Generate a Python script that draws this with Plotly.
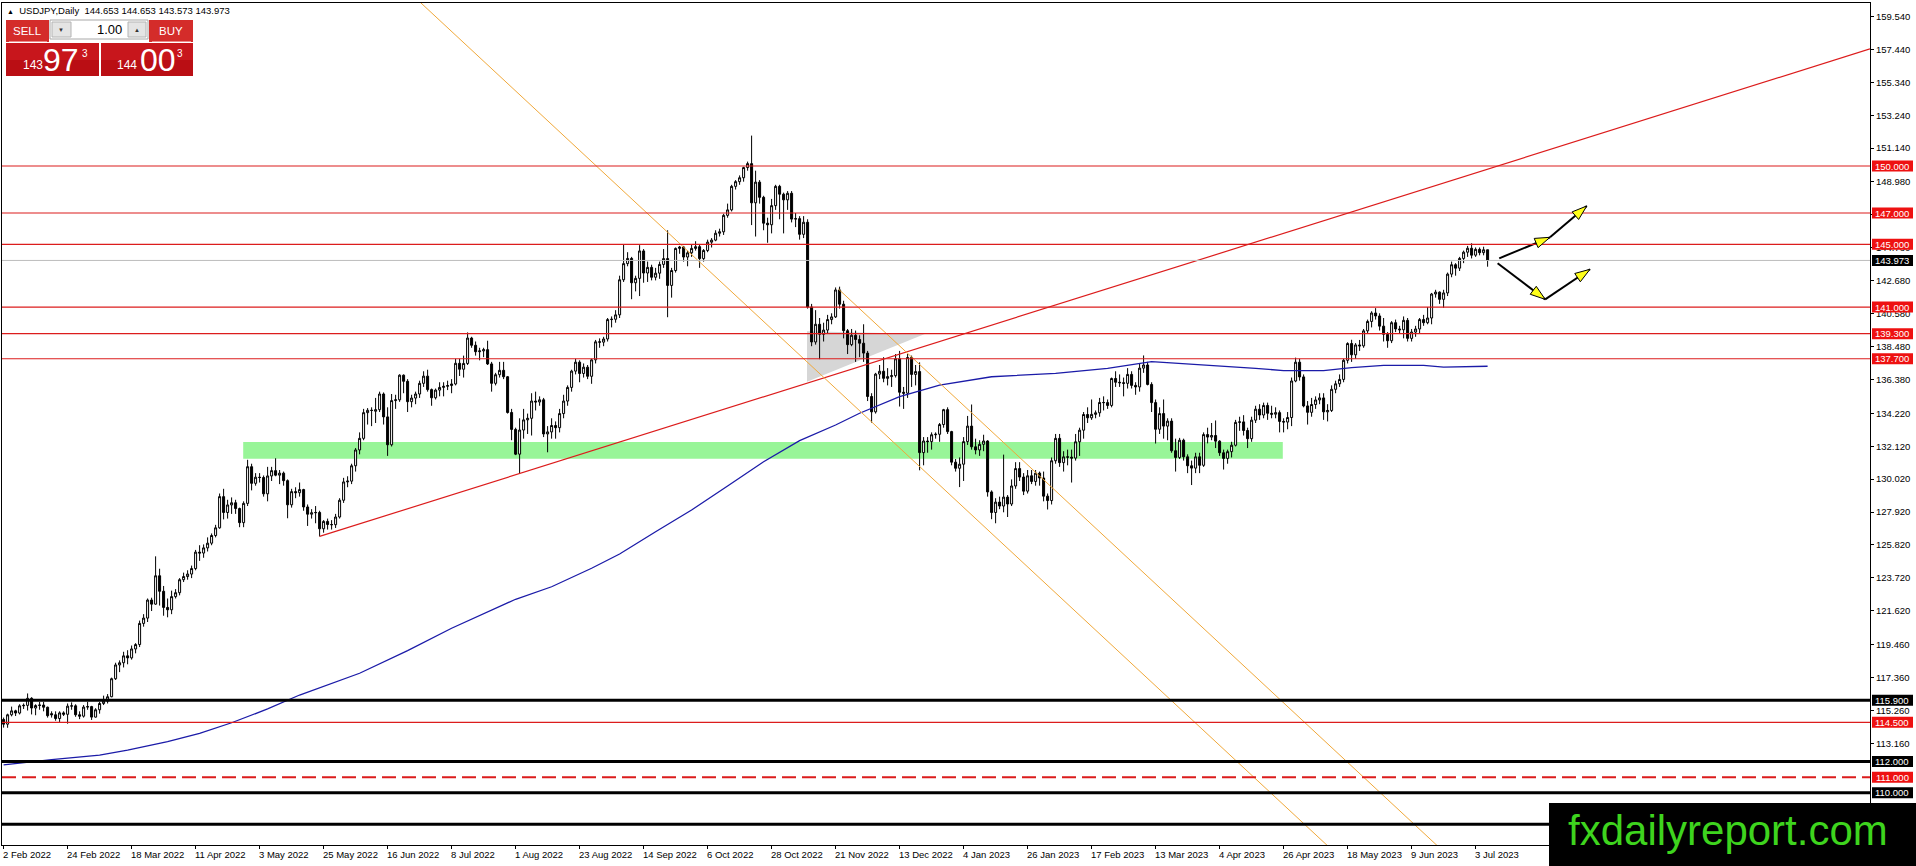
import plotly.graph_objects as go

# ------------------------------------------------------------------ data
date_labels = ["2 Feb 2022", "24 Feb 2022", "18 Mar 2022", "11 Apr 2022", "3 May 2022",
               "25 May 2022", "16 Jun 2022", "8 Jul 2022", "1 Aug 2022", "23 Aug 2022",
               "14 Sep 2022", "6 Oct 2022", "28 Oct 2022", "21 Nov 2022", "13 Dec 2022",
               "4 Jan 2023", "26 Jan 2023", "17 Feb 2023", "13 Mar 2023", "4 Apr 2023",
               "26 Apr 2023", "18 May 2023", "9 Jun 2023", "3 Jul 2023"]
label_step = 16

opens = [
    114.68, 114.38, 114.98, 115.23, 115.09, 115.55, 115.58, 116.03, 115.41, 115.57,
    115.60, 115.46, 115.05, 114.98, 114.74, 115.10, 115.01, 115.53, 115.55, 114.98,
    114.89, 115.47, 115.50, 114.83, 115.30, 115.70, 115.85, 116.13, 117.28, 118.16,
    118.30, 118.74, 118.61, 119.18, 119.46, 120.81, 121.15, 122.30, 122.04, 123.85,
    122.86, 121.83, 121.68, 122.52, 122.77, 123.60, 123.80, 123.96, 124.31, 125.36,
    125.30, 125.63, 125.93, 126.42, 126.91, 128.90, 127.89, 128.37, 128.51, 128.14,
    127.24, 128.47, 130.81, 129.75, 130.14, 130.12, 129.08, 130.22, 130.56, 130.27,
    130.40, 129.92, 128.38, 129.22, 129.15, 129.35, 128.24, 127.78, 127.87, 127.89,
    126.85, 127.32, 127.12, 127.11, 127.60, 128.67, 129.84, 129.89, 130.87, 131.88,
    132.62, 134.26, 134.41, 134.35, 134.45, 135.45, 133.99, 132.21, 135.03, 135.08,
    136.65, 136.26, 134.96, 135.19, 135.45, 136.13, 136.59, 135.73, 135.21, 135.70,
    135.87, 135.94, 135.99, 136.09, 137.41, 137.03, 137.40, 139.02, 138.56, 138.15,
    138.20, 138.28, 137.37, 136.13, 136.68, 136.96, 136.55, 134.27, 133.19, 131.61,
    133.15, 133.80, 133.90, 135.00, 134.94, 135.08, 132.90, 133.03, 133.44, 133.30,
    134.20, 135.00, 135.87, 136.91, 137.48, 136.76, 137.16, 136.58, 137.63, 138.78,
    138.76, 138.96, 140.20, 140.22, 140.50, 142.74, 143.77, 144.10, 142.55, 142.83,
    144.58, 143.17, 143.53, 142.90, 143.16, 143.72, 144.09, 142.38, 143.33, 144.74,
    144.83, 144.19, 144.46, 144.74, 144.85, 144.09, 144.61, 145.14, 145.27, 145.71,
    145.80, 146.85, 147.20, 148.70, 149.00, 149.25, 149.90, 150.15, 147.65, 148.97,
    148.00, 146.35, 146.25, 147.47, 148.70, 148.20, 147.84, 148.26, 146.61, 146.64,
    145.64, 146.41, 141.00, 138.77, 139.90, 139.26, 139.53, 140.20, 140.37, 142.09,
    141.18, 139.49, 138.60, 139.20, 138.93, 138.69, 138.06, 135.29, 134.31, 136.72,
    136.90, 136.45, 136.56, 136.62, 137.70, 135.56, 135.50, 137.78, 136.70, 136.88,
    131.71, 132.45, 132.41, 132.85, 132.88, 133.50, 134.45, 133.05, 131.10, 130.71,
    130.97, 132.41, 133.40, 132.08, 131.88, 132.24, 132.45, 129.20, 127.89, 128.55,
    128.30, 128.87, 128.43, 129.58, 130.69, 130.15, 129.25, 130.23, 129.87, 130.40,
    130.09, 128.93, 128.65, 131.19, 132.62, 131.07, 131.44, 131.42, 131.36, 132.40,
    133.14, 134.14, 133.93, 134.15, 134.25, 134.91, 134.90, 134.72, 136.44, 136.20,
    136.17, 136.13, 136.70, 136.00, 135.90, 137.10, 137.30, 136.06, 134.90, 133.20,
    134.20, 133.40, 133.72, 131.83, 131.40, 132.50, 131.44, 130.87, 130.72, 131.44,
    130.90, 132.86, 132.70, 132.80, 132.44, 131.70, 131.34, 131.77, 132.18, 133.64,
    133.67, 133.12, 132.60, 133.78, 134.48, 134.11, 134.72, 134.22, 134.16, 134.26,
    133.70, 133.66, 133.95, 136.28, 137.48, 136.54, 134.69, 134.28, 134.78, 135.07,
    135.20, 134.31, 134.40, 135.75, 136.10, 136.38, 137.60, 138.67, 137.95, 138.58,
    138.52, 139.48, 140.08, 140.62, 140.43, 139.78, 139.26, 138.85, 140.00, 139.60,
    139.55, 140.15, 139.00, 139.40, 139.60, 140.20, 140.00, 140.30, 141.83, 141.95,
    141.49, 141.90, 143.10, 143.70, 143.48, 144.10, 144.50, 144.75, 144.31, 144.68,
    144.47, 144.653]

highs = [
    114.80, 115.05, 115.50, 115.30, 115.65, 115.70, 116.34, 116.10, 115.65, 115.80,
    115.80, 115.50, 115.20, 115.20, 115.20, 115.20, 115.70, 115.77, 115.65, 115.20,
    115.60, 115.80, 115.55, 115.40, 115.80, 116.20, 116.30, 117.35, 118.30, 118.45,
    119.00, 119.10, 119.40, 119.55, 120.99, 121.40, 122.40, 122.45, 125.09, 124.30,
    123.20, 122.40, 122.90, 123.00, 123.70, 124.05, 124.20, 124.50, 125.50, 125.80,
    125.85, 126.30, 126.55, 127.10, 129.10, 129.40, 128.70, 128.85, 128.70, 128.20,
    128.60, 131.25, 131.00, 130.40, 130.40, 130.25, 130.80, 130.80, 131.35, 130.60,
    130.50, 130.00, 129.40, 129.50, 129.80, 129.40, 128.40, 128.10, 128.30, 128.00,
    127.40, 127.50, 127.40, 127.80, 128.80, 130.10, 130.20, 131.00, 132.00, 133.00,
    134.50, 134.55, 134.60, 135.20, 135.60, 135.55, 134.60, 135.45, 135.40, 136.71,
    136.70, 136.40, 135.40, 135.60, 136.30, 136.90, 137.00, 135.80, 135.80, 136.20,
    136.20, 136.30, 136.40, 137.70, 137.70, 137.90, 139.38, 139.10, 138.80, 138.40,
    138.40, 138.85, 137.50, 136.80, 137.50, 137.50, 136.60, 134.50, 133.30, 133.90,
    134.50, 134.20, 135.50, 135.60, 135.30, 135.20, 133.40, 133.90, 133.70, 134.50,
    135.40, 136.00, 137.00, 137.70, 137.60, 137.40, 137.30, 137.70, 138.90, 139.00,
    139.10, 140.30, 140.40, 140.80, 143.00, 144.99, 144.50, 144.20, 143.00, 144.95,
    144.70, 143.90, 143.70, 143.50, 143.90, 144.70, 145.90, 143.50, 144.80, 144.90,
    144.90, 144.60, 145.00, 145.20, 145.00, 144.70, 145.30, 145.40, 145.90, 146.00,
    146.95, 147.60, 148.80, 149.10, 149.40, 149.95, 150.28, 151.94, 149.70, 149.10,
    148.10, 146.70, 147.90, 148.80, 148.80, 148.30, 148.40, 148.40, 147.00, 146.80,
    146.80, 146.60, 141.20, 140.80, 140.30, 140.00, 140.50, 140.60, 142.25, 142.30,
    141.40, 139.60, 139.60, 139.50, 139.20, 139.90, 138.20, 135.50, 136.80, 137.30,
    137.80, 137.10, 137.00, 138.00, 138.20, 135.90, 138.00, 137.90, 137.30, 137.47,
    132.70, 132.70, 133.00, 133.00, 133.60, 134.50, 134.60, 133.10, 131.30, 131.40,
    132.70, 134.05, 134.78, 132.60, 132.50, 132.85, 132.50, 129.30, 128.80, 128.90,
    131.58, 129.00, 130.00, 131.10, 131.10, 130.40, 130.60, 130.60, 130.60, 130.50,
    130.50, 129.10, 131.40, 132.90, 132.90, 131.80, 131.90, 131.90, 132.90, 133.30,
    134.30, 134.60, 135.10, 134.40, 135.20, 135.30, 135.10, 136.50, 136.90, 136.70,
    136.50, 137.10, 136.90, 136.20, 137.40, 137.91, 137.50, 136.20, 135.10, 134.60,
    135.10, 133.90, 133.90, 132.60, 132.65, 132.60, 131.60, 131.20, 131.70, 131.70,
    133.00, 133.30, 133.60, 133.76, 132.50, 131.90, 131.90, 132.40, 133.80, 134.00,
    134.10, 133.30, 134.00, 134.70, 134.80, 134.90, 134.90, 134.70, 134.60, 134.40,
    133.90, 134.30, 136.50, 137.77, 137.70, 136.70, 135.00, 135.20, 135.30, 135.50,
    135.50, 134.80, 136.00, 136.30, 136.70, 137.70, 138.75, 138.91, 138.70, 138.90,
    139.60, 140.20, 140.73, 140.93, 140.60, 140.30, 139.40, 140.10, 140.20, 139.80,
    140.40, 140.30, 139.60, 139.80, 140.30, 140.50, 141.00, 141.90, 142.10, 142.00,
    142.10, 143.20, 143.90, 143.80, 144.20, 144.60, 144.90, 145.07, 144.80, 144.80,
    144.85, 144.653]

lows = [
    114.16, 114.15, 114.88, 114.90, 115.00, 115.35, 115.25, 115.00, 114.95, 115.30,
    115.20, 114.80, 114.80, 114.60, 114.52, 114.90, 114.41, 115.30, 114.85, 114.70,
    114.80, 115.30, 114.65, 114.80, 115.05, 115.60, 115.70, 116.10, 117.20, 117.70,
    118.00, 118.20, 118.50, 118.90, 119.30, 120.60, 120.90, 121.60, 122.00, 121.95,
    121.30, 121.20, 121.40, 122.40, 122.60, 123.45, 123.60, 123.70, 124.20, 124.80,
    125.00, 125.40, 125.80, 126.30, 126.85, 127.45, 127.50, 127.80, 127.80, 126.95,
    126.95, 128.30, 129.30, 129.60, 129.80, 128.90, 128.60, 129.90, 130.20, 129.70,
    129.60, 127.52, 128.20, 128.80, 128.90, 128.00, 127.03, 127.50, 127.20, 126.36,
    126.60, 126.80, 126.80, 126.90, 127.50, 128.50, 129.50, 129.70, 130.50, 131.60,
    132.50, 133.50, 133.40, 133.60, 134.30, 133.50, 131.50, 132.10, 134.50, 134.95,
    135.50, 134.30, 134.60, 134.80, 135.20, 135.90, 135.60, 134.70, 135.10, 135.30,
    135.30, 135.70, 135.50, 136.00, 136.60, 136.50, 137.30, 138.40, 137.90, 137.60,
    137.80, 137.30, 135.60, 136.00, 136.50, 136.40, 134.20, 132.50, 131.55, 130.39,
    132.60, 132.90, 132.80, 134.40, 134.70, 132.70, 131.73, 132.60, 132.60, 133.00,
    133.90, 134.70, 135.60, 136.70, 136.20, 136.50, 136.40, 136.10, 137.40, 138.40,
    138.50, 138.80, 139.70, 140.00, 140.30, 142.60, 143.60, 141.50, 142.00, 141.70,
    142.55, 142.60, 142.70, 142.70, 142.80, 143.50, 140.35, 141.60, 143.20, 144.40,
    143.90, 143.60, 144.20, 144.60, 143.50, 143.90, 144.50, 144.80, 145.20, 145.50,
    145.60, 146.70, 147.10, 148.50, 148.80, 149.00, 149.70, 146.23, 145.50, 147.60,
    145.90, 145.10, 145.70, 147.20, 146.60, 145.70, 147.20, 146.40, 146.10, 145.30,
    145.40, 140.90, 138.50, 138.60, 137.67, 138.80, 139.30, 139.90, 140.30, 140.90,
    139.00, 138.00, 138.50, 137.50, 137.80, 137.50, 135.00, 133.62, 134.20, 136.40,
    136.20, 136.00, 135.90, 136.50, 134.65, 134.50, 135.20, 135.90, 136.00, 130.58,
    130.90, 131.70, 131.90, 132.60, 132.40, 133.30, 132.90, 130.90, 130.50, 129.51,
    129.90, 132.20, 131.90, 131.60, 131.50, 131.80, 128.90, 127.46, 127.20, 128.10,
    127.90, 127.60, 128.30, 129.40, 129.90, 129.00, 129.10, 129.70, 129.60, 129.60,
    128.60, 128.08, 128.40, 131.00, 130.80, 130.50, 130.90, 129.80, 131.20, 131.50,
    132.60, 133.60, 133.80, 133.90, 134.00, 134.40, 134.50, 134.60, 135.90, 135.90,
    135.30, 135.80, 135.80, 135.40, 135.60, 136.80, 136.00, 134.30, 132.29, 132.90,
    132.60, 132.50, 131.70, 130.50, 131.30, 131.20, 130.40, 129.64, 130.40, 130.40,
    130.80, 132.30, 132.50, 132.00, 131.50, 130.63, 131.00, 131.40, 132.10, 133.10,
    132.80, 132.00, 132.40, 133.60, 133.80, 133.90, 133.80, 133.90, 133.90, 133.00,
    133.00, 133.20, 133.40, 136.20, 136.30, 134.60, 133.50, 134.00, 134.50, 134.80,
    133.80, 133.70, 134.30, 135.50, 135.90, 136.20, 137.40, 137.50, 137.70, 138.20,
    138.40, 139.30, 139.70, 140.20, 139.50, 138.80, 138.40, 138.70, 139.40, 139.30,
    139.00, 138.80, 138.80, 139.10, 139.30, 139.80, 139.90, 139.90, 141.60, 141.20,
    140.95, 141.70, 142.90, 143.00, 143.30, 143.80, 144.20, 144.10, 144.20, 144.30,
    144.30, 143.573]

closes = [
    114.38, 114.98, 115.23, 115.09, 115.55, 115.58, 116.03, 115.41, 115.57, 115.60,
    115.46, 114.92, 114.98, 114.74, 115.10, 115.01, 115.53, 115.55, 114.98, 114.89,
    115.47, 115.50, 114.83, 115.30, 115.70, 115.85, 116.13, 117.28, 118.16, 118.30,
    118.74, 118.61, 119.18, 119.46, 120.81, 121.15, 122.30, 122.04, 123.85, 122.86,
    121.83, 121.68, 122.52, 122.77, 123.60, 123.80, 123.96, 124.31, 125.36, 125.30,
    125.63, 125.93, 126.42, 126.91, 128.90, 127.89, 128.37, 128.51, 128.14, 127.24,
    128.47, 130.81, 129.75, 130.14, 130.12, 129.08, 130.22, 130.56, 130.27, 130.40,
    129.92, 128.38, 129.22, 129.15, 129.35, 128.24, 127.78, 127.87, 127.89, 126.85,
    127.32, 127.12, 127.11, 127.60, 128.67, 129.84, 129.89, 130.87, 131.88, 132.62,
    134.26, 134.41, 134.40, 134.45, 135.45, 133.99, 132.21, 135.03, 135.08, 136.65,
    136.26, 134.96, 135.19, 135.45, 136.13, 136.59, 135.73, 135.21, 135.70, 135.87,
    135.94, 135.99, 136.09, 137.41, 137.03, 137.40, 139.02, 138.56, 138.15, 138.20,
    138.28, 137.37, 136.13, 136.68, 136.96, 136.55, 134.27, 133.19, 131.61, 133.15,
    133.80, 133.90, 135.00, 134.94, 135.08, 132.90, 133.03, 133.44, 133.30, 134.20,
    135.00, 135.87, 136.91, 137.48, 136.76, 137.16, 136.58, 137.63, 138.78, 138.76,
    138.96, 140.20, 140.22, 140.50, 142.74, 143.77, 144.10, 142.55, 142.83, 144.58,
    143.17, 143.53, 142.90, 143.16, 143.72, 144.09, 142.38, 143.33, 144.74, 144.83,
    144.19, 144.46, 144.74, 144.85, 144.09, 144.61, 145.14, 145.27, 145.71, 145.80,
    146.85, 147.20, 148.70, 149.00, 149.25, 149.90, 150.15, 147.65, 148.97, 148.00,
    146.35, 146.25, 147.47, 148.70, 148.20, 147.84, 148.26, 146.61, 146.64, 145.64,
    146.41, 141.00, 138.77, 139.90, 139.26, 139.53, 140.20, 140.37, 142.09, 141.18,
    139.49, 138.60, 139.20, 138.93, 138.69, 138.06, 135.29, 134.31, 136.72, 136.90,
    136.45, 136.56, 136.62, 137.70, 135.56, 135.50, 137.78, 136.70, 136.88, 131.71,
    132.45, 132.41, 132.85, 132.88, 133.50, 134.45, 133.05, 131.10, 130.71, 130.97,
    132.41, 133.40, 132.08, 131.88, 132.24, 132.45, 129.20, 127.89, 128.55, 128.30,
    128.87, 128.43, 129.58, 130.69, 130.15, 129.25, 130.23, 129.87, 130.40, 130.09,
    128.93, 128.65, 131.19, 132.62, 131.07, 131.44, 131.42, 131.36, 132.40, 133.14,
    134.14, 133.93, 134.15, 134.25, 134.91, 134.90, 134.72, 136.44, 136.20, 136.17,
    136.13, 136.70, 136.00, 135.90, 137.10, 137.30, 136.06, 134.90, 133.20, 134.20,
    133.40, 133.72, 131.83, 131.40, 132.50, 131.44, 130.87, 130.72, 131.44, 130.90,
    132.86, 132.70, 132.80, 132.44, 131.70, 131.34, 131.77, 132.18, 133.64, 133.67,
    133.12, 132.60, 133.78, 134.48, 134.11, 134.72, 134.22, 134.16, 134.26, 133.70,
    133.66, 133.95, 136.28, 137.48, 136.54, 134.69, 134.28, 134.78, 135.07, 135.20,
    134.31, 134.40, 135.75, 136.10, 136.38, 137.60, 138.67, 137.95, 138.58, 138.52,
    139.48, 140.08, 140.62, 140.43, 139.78, 139.26, 138.85, 140.00, 139.60, 139.55,
    140.15, 139.00, 139.40, 139.60, 140.20, 140.00, 140.30, 141.83, 141.95, 141.49,
    141.90, 143.10, 143.70, 143.48, 144.10, 144.50, 144.75, 144.31, 144.68, 144.47,
    144.653, 143.973]

# 200-period moving average (bar index, value)
ma_bars = [0, 12, 24, 31, 41, 49, 57, 66, 74, 89, 101, 112, 128, 137, 147, 154, 163,
           172, 181, 190, 199, 208, 214, 224, 234, 247, 263, 276, 287, 297, 313, 320,
           330, 337, 345, 355, 360, 371]
ma_values = [111.78, 112.12, 112.41, 112.73, 113.26, 113.80, 114.47, 115.35, 116.24,
             117.63, 119.07, 120.50, 122.35, 123.15, 124.33, 125.24, 126.66, 128.05,
             129.58, 131.13, 132.47, 133.47, 134.22, 135.28, 136.02, 136.55, 136.77,
             137.09, 137.51, 137.36, 137.09, 136.94, 136.94, 137.13, 137.28, 137.28,
             137.17, 137.22]

red_levels = [150.0, 147.0, 145.0, 141.0, 139.3, 137.7, 114.5]
black_levels = [115.9, 112.0, 110.0, 108.0]
dashed_levels = [111.0]
bid_price = 143.973
ask_price = 144.003

y_tick_values = [159.54, 157.44, 155.34, 153.24, 151.14, 148.98, 146.88, 144.78, 142.68,
                 140.58, 138.48, 136.38, 134.22, 132.12, 130.02, 127.92, 125.82, 123.72,
                 121.62, 119.46, 117.36, 115.26, 113.16]

# drawn objects (bar index, price)
trend_bars, trend_prices = [79, 466.6], [126.36, 157.47]
channel_a_bars, channel_a_prices = [95, 335], [162.62, 105.67]
channel_b_bars, channel_b_prices = [208.7, 360], [142.15, 106.25]
zone_bars, zone_prices = [59.9, 319.8], [131.32, 132.39]
triangle_bars, triangle_prices = [200.85, 200.85, 230.3], [139.45, 136.23, 139.28]
arrow_segments = [
    ([373.9, 386.6], [144.11, 145.45]),
    ([386.6, 395.8], [145.45, 147.45]),
    ([373.5, 385.4], [143.79, 141.49]),
    ([385.4, 396.6], [141.49, 143.41]),
]

# ------------------------------------------------------------------ geometry
W, H = 1916, 866
ML, MR, MT, MB = 2, 46, 3, 21
PW = W - ML - MR
PH = H - MT - MB
X0, X1 = -0.4, 466.6
Y0, Y1 = 106.669, 160.402
PXB = PW / (X1 - X0)
PXP = PH / (Y1 - Y0)
WM_TOP = 803  # top edge (px) of the watermark box


def xp(px):
    return (px - ML) / PW


def yp(py):
    return (H - MB - py) / PH


def pp(price):
    return (price - Y0) / (Y1 - Y0)


def price_to_px(price):
    return H - MB - pp(price) * PH


FONT = "Tahoma, 'Liberation Sans', Arial, sans-serif"
RED = "#DC1C1C"

fig = go.Figure()

fig.add_trace(go.Candlestick(
    x=list(range(len(closes))), open=opens, high=highs, low=lows, close=closes,
    increasing=dict(line=dict(color="black", width=1), fillcolor="white"),
    decreasing=dict(line=dict(color="black", width=1), fillcolor="black"),
    whiskerwidth=0, showlegend=False, hoverinfo="skip"))

fig.add_trace(go.Scatter(x=ma_bars, y=ma_values, mode="lines",
                         line=dict(color="#1b1ba8", width=1.3), showlegend=False, hoverinfo="skip"))
fig.add_trace(go.Scatter(x=trend_bars, y=trend_prices, mode="lines",
                         line=dict(color=RED, width=1.2), showlegend=False, hoverinfo="skip"))
for bx, by in [(channel_a_bars, channel_a_prices), (channel_b_bars, channel_b_prices)]:
    fig.add_trace(go.Scatter(x=bx, y=by, mode="lines",
                             line=dict(color="#F0A83A", width=1), showlegend=False, hoverinfo="skip"))
for bx, by in arrow_segments:
    fig.add_trace(go.Scatter(x=bx, y=by, mode="lines",
                             line=dict(color="black", width=2), showlegend=False, hoverinfo="skip"))

shapes = []
# background objects
shapes.append(dict(type="rect", xref="x", yref="y", x0=zone_bars[0], x1=zone_bars[1],
                   y0=zone_prices[0], y1=zone_prices[1], fillcolor="#98F598",
                   line=dict(width=0), layer="below"))
tri = "M " + " L ".join(f"{a},{b}" for a, b in zip(triangle_bars, triangle_prices)) + " Z"
shapes.append(dict(type="path", xref="x", yref="y", path=tri, fillcolor="#D6D6D6",
                   line=dict(width=0), layer="below"))

# horizontal levels
for lv in red_levels:
    shapes.append(dict(type="line", xref="paper", yref="y", x0=0, x1=1, y0=lv, y1=lv,
                       line=dict(color=RED, width=1.2), layer="above"))
for lv in black_levels:
    shapes.append(dict(type="line", xref="paper", yref="y", x0=0, x1=1, y0=lv, y1=lv,
                       line=dict(color="black", width=3), layer="above"))
for lv in dashed_levels:
    shapes.append(dict(type="line", xref="paper", yref="y", x0=0, x1=1, y0=lv, y1=lv,
                       line=dict(color=RED, width=2, dash="14px,6px"), layer="above"))
shapes.append(dict(type="line", xref="paper", yref="y", x0=0, x1=1, y0=bid_price, y1=bid_price,
                   line=dict(color="#BDBDBD", width=1), layer="above"))


# arrow heads
def head_path(xa, ya, xb, yb, length=15.0, half=5.0):
    dx = (xb - xa) * PXB
    dy = (yb - ya) * PXP
    n = (dx * dx + dy * dy) ** 0.5
    ux, uy = dx / n, dy / n
    bx, by = -ux * length, -uy * length
    qx, qy = -uy * half, ux * half
    pts = [(0.0, 0.0), (bx + qx, by + qy), (bx - qx, by - qy)]
    return "M " + " L ".join(f"{xb + ox / PXB:.4f},{yb + oy / PXP:.4f}" for ox, oy in pts) + " Z"


for bx, by in arrow_segments:
    shapes.append(dict(type="path", xref="x", yref="y", path=head_path(bx[0], by[0], bx[1], by[1]),
                       fillcolor="#FFFF1A", line=dict(color="black", width=1), layer="above"))

annotations = []

# price tags on the right scale (the one under the watermark is hidden there)
tags = [(lv, "#EE1111") for lv in red_levels + dashed_levels] + \
       [(lv, "black") for lv in black_levels] + [(bid_price, "black")]
for lv, col in tags:
    if price_to_px(lv) + 5.5 > WM_TOP:
        continue
    c = pp(lv)
    shapes.append(dict(type="rect", xref="paper", yref="paper", x0=xp(1872), x1=xp(1913),
                       y0=c - 5.5 / PH, y1=c + 5.5 / PH, fillcolor=col, line=dict(width=0),
                       layer="above"))
    annotations.append(dict(xref="paper", yref="paper", x=xp(1892.5), y=c, text=f"{lv:.3f}",
                            showarrow=False, xanchor="center", yanchor="middle",
                            font=dict(family=FONT, size=9.5, color="white")))

# x labels
for i, lab in enumerate(date_labels):
    annotations.append(dict(xref="x", yref="paper", x=i * label_step, y=0, text=lab,
                            showarrow=False, xanchor="left", yanchor="top", xshift=-3, yshift=-2,
                            font=dict(family=FONT, size=9.5, color="black")))

# header
hdr = (f"<span style='font-size:7px'>▲</span>\u00a0 USDJPY,Daily\u00a0\u00a0{opens[-1]:.3f} "
       f"{highs[-1]:.3f} {lows[-1]:.3f} {closes[-1]:.3f}")
annotations.append(dict(xref="paper", yref="paper", x=xp(5), y=yp(10.5), text=hdr,
                        showarrow=False, xanchor="left", yanchor="middle",
                        font=dict(family=FONT, size=9.5, color="black")))


# one-click trading panel
def prect(x0, y0, x1, y1, fill, line_col=None, lw=0):
    return dict(type="rect", xref="paper", yref="paper", x0=xp(x0), x1=xp(x1), y0=yp(y1), y1=yp(y0),
                fillcolor=fill, line=dict(color=line_col or fill, width=lw), layer="above")


shapes += [
    prect(6, 20, 49, 42, "#D42C2A"),
    prect(149, 20, 193, 42, "#D42C2A"),
    prect(50, 20, 148, 39, "white", "#A8A8A8", 1),
    prect(52, 22, 71, 37, "#E4E4E4", "#B4B4B4", 1),
    prect(128, 22, 146, 37, "#E4E4E4", "#B4B4B4", 1),
    prect(6, 43, 99, 76, "#C8161C"),
    prect(101, 43, 193, 76, "#C8161C"),
    prect(6, 60, 99, 76, "#BA0E14"),
    prect(101, 60, 193, 76, "#BA0E14"),
    dict(type="line", xref="paper", yref="paper", x0=xp(9), x1=xp(47), y0=yp(41.5), y1=yp(41.5),
         line=dict(color="#EC8A8A", width=1), layer="above"),
    dict(type="line", xref="paper", yref="paper", x0=xp(152), x1=xp(191), y0=yp(41.5), y1=yp(41.5),
         line=dict(color="#EC8A8A", width=1), layer="above"),
]


def ptext(x, y, text, size, color="white", anchor="center"):
    annotations.append(dict(xref="paper", yref="paper", x=xp(x), y=yp(y), text=text,
                            showarrow=False, xanchor=anchor, yanchor="middle",
                            font=dict(family="'Liberation Sans', Arial, sans-serif",
                                      size=size, color=color)))


ptext(27.5, 31, "SELL", 11.5)
ptext(171, 31, "BUY", 11.5)
ptext(61.5, 29.5, "▼", 6, "#333333")
ptext(137, 29.5, "▲", 6, "#333333")
ptext(124, 30, "1.00", 13, "black", "right")

bid_s, ask_s = f"{bid_price:.3f}", f"{ask_price:.3f}"
ptext(32.5, 65.5, bid_s[:3], 12)
ptext(61.5, 60, bid_s[4:6], 32)
ptext(85, 54, bid_s[6], 10)
ptext(127.5, 65.5, ask_s[:3], 12)
ptext(157.5, 60, ask_s[4:6], 32)
ptext(180, 54, ask_s[6], 10)

# watermark box
shapes.append(dict(type="rect", xref="paper", yref="paper", x0=xp(1549), x1=xp(1920),
                   y0=yp(870), y1=yp(WM_TOP), fillcolor="black", line=dict(width=0), layer="above"))
annotations.append(dict(xref="paper", yref="paper", x=xp(1728), y=yp(830), text="fxdailyreport.com",
                        showarrow=False, xanchor="center", yanchor="middle",
                        font=dict(family="'Liberation Sans', Arial, sans-serif", size=42,
                                  color="#3ED41E")))

fig.update_layout(
    width=W, height=H, autosize=False,
    margin=dict(l=ML, r=MR, t=MT, b=MB, pad=0),
    paper_bgcolor="white", plot_bgcolor="white",
    font=dict(family=FONT, size=9.5, color="black"),
    showlegend=False, boxgap=0.5, boxgroupgap=0,
    shapes=shapes, annotations=annotations,
    xaxis=dict(range=[X0, X1], showgrid=False, zeroline=False, showline=True, mirror=True,
               linecolor="black", linewidth=1, ticks="outside", ticklen=3, tickcolor="black",
               tickvals=[i * label_step for i in range(len(date_labels))], showticklabels=False,
               rangeslider=dict(visible=False), fixedrange=True),
    yaxis=dict(range=[Y0, Y1], side="right", showgrid=False, zeroline=False, showline=True,
               mirror=True, linecolor="black", linewidth=1, ticks="outside", ticklen=3,
               tickcolor="black", tickvals=y_tick_values,
               ticktext=[f"{v:.3f}" for v in y_tick_values],
               tickfont=dict(family=FONT, size=9.5, color="black"), fixedrange=True),
)

fig.write_html("out.html", config={"displayModeBar": False},
               post_script="document.body.style.margin='0';document.body.style.overflow='hidden';")
